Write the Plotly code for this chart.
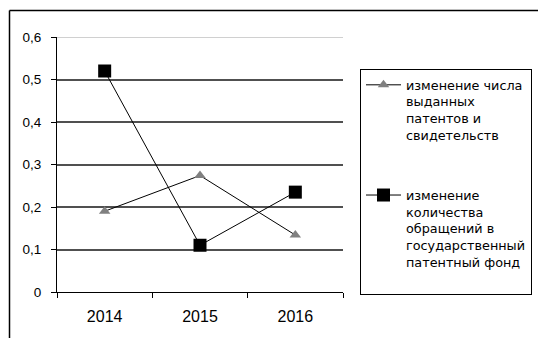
import plotly.graph_objects as go

years = ["2014", "2015", "2016"]
patents = [0.19, 0.274, 0.134]
requests = [0.52, 0.11, 0.235]
name_patents = "изменение числа<br>выданных<br>патентов и<br>свидетельств<br> "
name_requests = "изменение<br>количества<br>обращений в<br>государственный<br>патентный фонд<br> "
y_ticks = [0, 0.1, 0.2, 0.3, 0.4, 0.5, 0.6]
y_ticktext = ["0", "0,1", "0,2", "0,3", "0,4", "0,5", "0,6"]
y_inner_grid = [0.1, 0.2, 0.3, 0.4, 0.5]
y_max = 0.6

W, H = 538, 338
L, R, T, B = 57, 195, 37, 46
pw, ph = W - L - R, H - T - B

def px(x):
    return (x - L) / pw

def py(y):
    return (H - B - y) / ph

fig = go.Figure()
fig.add_trace(go.Scatter(
    x=years, y=patents, name=name_patents, mode="lines+markers", legendgroup="a",
    line=dict(color="black", width=1),
    marker=dict(symbol="triangle-up", size=10, color="#808080"),
))
fig.add_trace(go.Scatter(
    x=years, y=requests, name=name_requests, mode="lines+markers", legendgroup="b",
    line=dict(color="black", width=1),
    marker=dict(symbol="square", size=13, color="black"),
))

fig.add_shape(type="line", xref="paper", yref="y", x0=0, x1=1, y0=y_max, y1=y_max,
              line=dict(color="#c0c0c0", width=1.5), layer="below")
fig.add_shape(type="line", xref="paper", yref="paper", x0=px(9.5), x1=px(545),
              y0=py(10.5), y1=py(10.5), line=dict(color="black", width=1.5))
fig.add_shape(type="line", xref="paper", yref="paper", x0=px(9.5), x1=px(9.5),
              y0=py(10.5), y1=py(345), line=dict(color="black", width=1.5))

fig.update_layout(
    width=W, height=H,
    margin=dict(l=L, r=R, t=T, b=B, pad=0, autoexpand=False),
    paper_bgcolor="white", plot_bgcolor="white",
    font=dict(family="Liberation Sans, Arial, sans-serif", color="black", size=13),
    showlegend=True,
    legend=dict(
        xref="container", yref="container",
        x=360 / W, y=1 - 69 / H, xanchor="left", yanchor="top",
        bordercolor="black", borderwidth=1, bgcolor="white",
        font=dict(size=12.8, family="DejaVu Sans, sans-serif"), valign="top",
        traceorder="grouped", tracegroupgap=24, itemwidth=35, maxheight=400,
    ),
    xaxis=dict(
        type="category", range=[-0.5, 2.5], showline=True, linecolor="black", linewidth=1,
        ticks="outside", ticklen=5, tickcolor="black", tickson="boundaries",
        showgrid=False, zeroline=False, tickfont=dict(size=16), ticklabelstandoff=10,
    ),
    yaxis=dict(
        range=[0, y_max], tickmode="array", tickvals=y_ticks, ticktext=y_ticktext,
        showline=True, linecolor="black", linewidth=1,
        ticks="outside", ticklen=5, tickcolor="black",
        showgrid=False, zeroline=False, tickfont=dict(size=13.5), ticklabelstandoff=7,
        minor=dict(tickmode="array", tickvals=y_inner_grid, showgrid=True,
                   gridcolor="#505050", gridwidth=1.5, ticks=""),
    ),
)

fig.write_html("out.html")
